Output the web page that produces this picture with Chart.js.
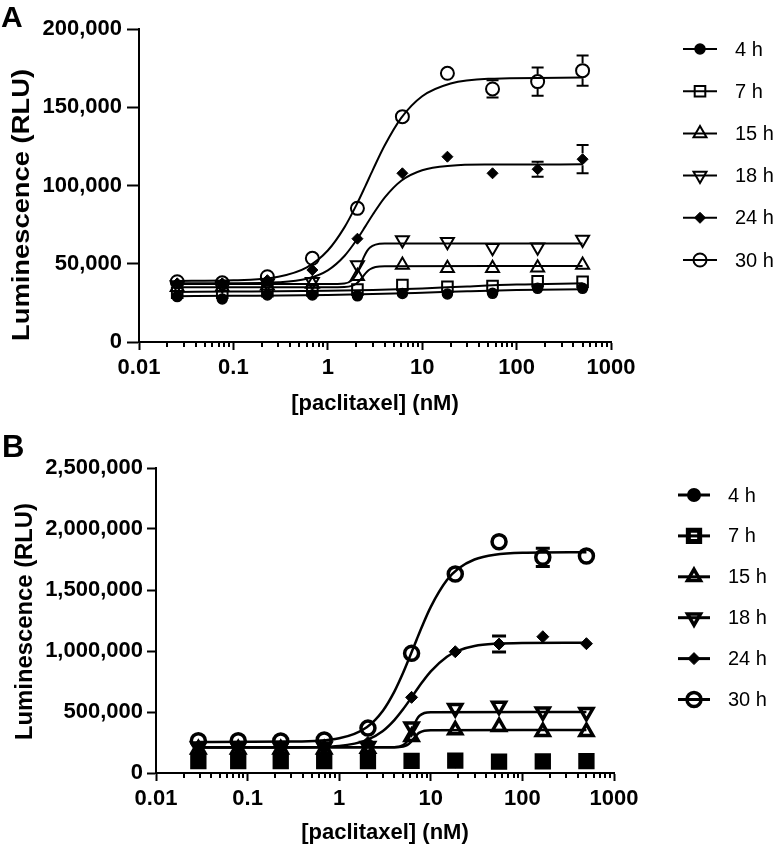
<!DOCTYPE html>
<html><head><meta charset="utf-8">
<script src="https://cdn.jsdelivr.net/npm/chart.js@4.4.1/dist/chart.umd.min.js"></script>
<style>
html,body{margin:0;padding:0;background:#fff;}
#wrap{position:relative;width:780px;height:849px;overflow:hidden;}
canvas{position:absolute;left:0;}
#cA{top:0;} #cB{top:420px;}
</style></head><body>
<div id="wrap"><canvas id="cA" width="780" height="420"></canvas><canvas id="cB" width="780" height="429"></canvas></div>
<script>
// ---------------- data ----------------
const seriesLabels = ['4 h', '7 h', '15 h', '18 h', '24 h', '30 h'];
const xTickLabels = ['0.01', '0.1', '1', '10', '100', '1000'];
const yMaxA = 200000, yStepA = 50000;
const yMaxB = 2500000, yStepB = 500000;

// Panel A measured points
const concA = [0.0254, 0.0762, 0.229, 0.686, 2.06, 6.17, 18.5, 55.6, 167, 500];
const a4h  = [29000, 27500, 30000, 30000, 29500, 31000, 30700, 31100, 34300, 34300];
const a7h  = [31500, 31500, 32500, 33000, 33500, 36400, 35300, 35800, 38800, 38500];
const a15h = [35000, 35000, 36000, 37000, 42000, 49200, 47100, 47100, 47500, 49200];
const a18h = [36500, 36500, 37500, 38500, 49200, 65200, 64100, 60200, 60500, 65500];
const a24h = [37500, 37500, 39500, 46000, 66000, 107800, 118400, 107800, 110400, 116800];
const a30h = [38500, 37800, 41700, 53500, 85400, 144000, 171700, 161700, 166400, 173400];
const a18hErr = [0, 0, 0, 0, 0, 0, 5000, 0, 0, 3500];
const a24hErr = [0, 0, 0, 0, 0, 0, 0, 0, 4800, 9000];
const a30hErr = [0, 0, 0, 0, 0, 0, 0, 5500, 9000, 9600];

// Panel A fitted curves
const cxA4  = [0.0254, 0.1, 1, 3, 10, 30, 100, 500];
const cyA4  = [29300, 29500, 30000, 30600, 31500, 32400, 33200, 33700];
const cxA7  = [0.0254, 0.1, 1, 3, 10, 30, 100, 500];
const cyA7  = [32000, 32200, 32700, 33200, 34200, 35500, 36700, 37500];
const cxA15 = [0.0254, 1, 1.5, 1.8, 2.0, 2.2, 2.4, 2.6, 2.8, 3.2, 4, 500];
const cyA15 = [35000, 35000, 35150, 35880, 37240, 39600, 42450, 44900, 46500, 47910, 48430, 48500];
const cxA18 = [0.0254, 1, 1.5, 1.8, 2.0, 2.2, 2.4, 2.6, 2.8, 3.2, 4, 500];
const cyA18 = [37000, 37000, 37440, 39520, 43110, 48540, 54060, 58060, 60370, 62250, 62920, 63000];
const cxA24 = [0.0254, 0.1, 0.3, 0.6, 1, 1.5, 2, 2.5, 3, 4, 6, 10, 20, 50, 500];
const cyA24 = [37500, 37560, 38150, 40400, 45780, 54960, 64830, 73860, 81430, 92270, 103080, 109780, 112660, 113390, 113500];
const cxA30 = [0.0254, 0.1, 0.3, 0.6, 1, 1.5, 2, 2.5, 3, 4, 6, 10, 20, 50, 500];
const cyA30 = [39040, 39400, 41720, 47720, 58440, 73240, 87310, 99630, 109980, 125520, 143220, 157040, 165200, 168220, 169000];

// Panel B measured points
const concB = [0.029, 0.079, 0.23, 0.686, 2.06, 6.17, 18.5, 55.6, 167, 500];
const b4h  = [92000, 92000, 93000, 93000, 93000, 95000, 97000, 95000, 93000, 94000];
const b7h  = [97000, 97000, 98000, 98000, 97000, 100000, 102000, 93000, 96000, 97000];
const b15h = [195000, 195000, 195000, 195000, 200000, 298000, 352000, 380000, 339000, 339000];
const b18h = [215000, 215000, 215000, 215000, 220000, 380000, 530000, 549000, 503000, 497000];
const b24h = [220000, 220000, 218000, 218000, 250000, 620000, 994000, 1057000, 1117000, 1060000];
const b30h = [265000, 265000, 262000, 270000, 368000, 981000, 1631000, 1896000, 1768000, 1779000];
const b24hErr = [0, 0, 0, 0, 0, 0, 0, 65000, 0, 0];
const b30hErr = [0, 0, 0, 0, 0, 0, 0, 0, 75000, 0];

// Panel B fitted curves
const cxB15 = [0.029, 4, 5, 5.5, 6, 6.5, 7, 7.5, 8.5, 10, 500];
const cyB15 = [212000, 212000, 217800, 228600, 250800, 282000, 311200, 330700, 346600, 351200, 352000];
const cxB18 = [0.029, 4, 5, 5.5, 6, 6.5, 7, 7.5, 8.5, 10, 500];
const cyB18 = [212000, 212000, 228900, 259200, 315000, 382700, 436600, 468300, 492200, 498800, 500000];
const cxB24 = [0.029, 0.3, 1, 2, 3, 4, 5, 6, 7, 8, 10, 15, 20, 30, 50, 100, 500];
const cyB24 = [208000, 209000, 222300, 269900, 344600, 433600, 524000, 607600, 680100, 741500, 833700, 953600, 1003200, 1040200, 1058800, 1065900, 1068000];
const cxB30 = [0.029, 0.3, 1, 2, 3, 4, 5, 6, 7, 8, 10, 15, 20, 30, 50, 100, 500];
const cyB30 = [255000, 257400, 284900, 375700, 511100, 667300, 823500, 967300, 1092800, 1199400, 1362200, 1581000, 1675800, 1749800, 1788800, 1805000, 1810000];

// ---------------- rendering ----------------
const FONT = "'Liberation Sans', Arial, Helvetica, sans-serif";
Chart.defaults.font.family = FONT;
Chart.defaults.color = '#000';
const H = Chart.helpers;

const majorVals = xTickLabels.map(Number);
function isMajor(v){ const l = Math.log10(v); return Math.abs(l - Math.round(l)) < 1e-6; }
const allXTicks = [];
majorVals.forEach((m, i) => {
  allXTicks.push(m);
  if (i < majorVals.length - 1) for (let k = 2; k <= 9; k++) allXTicks.push(+(k * m).toPrecision(6));
});
function labelFor(v){
  for (let i = 0; i < majorVals.length; i++) if (Math.abs(v / majorVals[i] - 1) < 1e-6) return xTickLabels[i];
  return '';
}
const fmt = v => Number(v).toLocaleString('en-US');

function pts(xs, ys){ return xs.map((x, i) => ({x: x, y: ys[i]})); }

function markerDS(label, xs, ys, errs, st){
  return {
    label, data: pts(xs, ys), errors: errs, isMarker: true, showLine: false,
    pointStyle: st.ps, pointRotation: st.rot || 0, pointRadius: st.r, pointHoverRadius: st.r,
    pointBorderWidth: st.bw, pointHoverBorderWidth: st.bw,
    pointBackgroundColor: st.fill ? '#000' : 'rgba(0,0,0,0)', pointBorderColor: '#000',
    borderColor: '#000', order: 0
  };
}
function curveDS(xs, ys, lw){
  return {
    label: '', data: pts(xs, ys), isCurve: true, showLine: true, pointRadius: 0, pointHoverRadius: 0,
    borderColor: '#000', borderWidth: lw, cubicInterpolationMode: 'monotone', fill: false, order: 1
  };
}

const extras = {
  id: 'panelExtras',
  afterDatasetsDraw(chart){
    const P = chart.options.plugins.panelExtras;
    const {ctx} = chart; const x = chart.scales.x, y = chart.scales.y;
    chart.data.datasets.forEach(ds => {
      if (!ds.errors) return;
      ds.errors.forEach((e, i) => {
        if (!e) return;
        const p = ds.data[i];
        const px = x.getPixelForValue(p.x), pc = y.getPixelForValue(p.y);
        const pt = y.getPixelForValue(p.y + e), pb = y.getPixelForValue(p.y - e);
        const r = ds.pointRadius + ds.pointBorderWidth / 2;
        ctx.save(); ctx.strokeStyle = '#000'; ctx.lineWidth = P.errW; ctx.lineCap = 'butt';
        ctx.beginPath();
        if (pc - r > pt) { ctx.moveTo(px, pc - r); ctx.lineTo(px, pt); ctx.moveTo(px - P.cap, pt); ctx.lineTo(px + P.cap, pt); }
        if (pc + r < pb) { ctx.moveTo(px, pc + r); ctx.lineTo(px, pb); ctx.moveTo(px - P.cap, pb); ctx.lineTo(px + P.cap, pb); }
        ctx.stroke(); ctx.restore();
      });
    });
  },
  afterDraw(chart){
    const P = chart.options.plugins.panelExtras;
    const {ctx, chartArea} = chart; const x = chart.scales.x;
    ctx.save();
    // minor x ticks
    ctx.strokeStyle = '#000'; ctx.lineWidth = P.tickW;
    ctx.beginPath();
    allXTicks.forEach(v => {
      if (isMajor(v)) return;
      const px = Math.round(x.getPixelForValue(v));
      ctx.moveTo(px, chartArea.bottom); ctx.lineTo(px, chartArea.bottom + P.minorLen);
    });
    ctx.stroke();
    // y axis title
    ctx.save();
    ctx.fillStyle = '#000'; ctx.font = 'bold ' + P.yTitleSize + 'px ' + FONT;
    ctx.translate(P.yTitleX, P.yTitleY); ctx.rotate(-Math.PI / 2);
    const w = ctx.measureText(P.yTitle).width;
    ctx.scale(P.yTitleLen / w, 1);
    ctx.textAlign = 'center'; ctx.textBaseline = 'middle';
    ctx.fillText(P.yTitle, 0, 0);
    ctx.restore();
    // legend
    const items = chart.data.datasets.filter(d => d.isMarker);
    items.forEach((ds, i) => {
      const cy = P.legY0 + i * P.legDy;
      ctx.strokeStyle = '#000'; ctx.lineWidth = P.legLineW;
      ctx.beginPath(); ctx.moveTo(P.legX0, cy); ctx.lineTo(P.legX1, cy); ctx.stroke();
      ctx.fillStyle = ds.pointBackgroundColor; ctx.strokeStyle = '#000'; ctx.lineWidth = ds.pointBorderWidth;
      H.drawPoint(ctx, {pointStyle: ds.pointStyle, rotation: ds.pointRotation, radius: ds.pointRadius, borderWidth: ds.pointBorderWidth}, (P.legX0 + P.legX1) / 2, cy);
      ctx.fillStyle = '#000'; ctx.font = P.legFont + 'px ' + FONT;
      ctx.textAlign = 'left'; ctx.textBaseline = 'middle';
      ctx.fillText(ds.label, P.legTextX, cy + 1);
    });
    // panel letter
    ctx.fillStyle = '#000'; ctx.font = 'bold ' + P.letterSize + 'px ' + FONT;
    ctx.textAlign = 'left'; ctx.textBaseline = 'alphabetic';
    ctx.fillText(P.letter, P.letterX, P.letterY);
    ctx.restore();
  }
};

function makePanel(id, o){
  const datasets = [];
  o.curves.forEach(c => datasets.push(curveDS(c[0], c[1], o.lineW)));
  o.markers.forEach(m => datasets.push(m));
  return new Chart(document.getElementById(id), {
    type: 'scatter',
    data: {datasets},
    plugins: [extras],
    options: {
      responsive: false, maintainAspectRatio: false, devicePixelRatio: 1, animation: false,
      events: [],
      layout: {padding: {left: 0, top: o.top, right: o.right, bottom: 0}},
      plugins: {
        legend: {display: false}, tooltip: {enabled: false},
        panelExtras: o.extras
      },
      scales: {
        x: {
          type: 'logarithmic', min: 0.01, max: 1000,
          afterBuildTicks: s => { s.ticks = allXTicks.map(v => ({value: v, major: isMajor(v)})); },
          afterFit: s => { s.height = o.xH; },
          ticks: {autoSkip: false, maxRotation: 0, minRotation: 0, padding: o.xTickPad,
                  font: {size: o.tickFont, weight: 'bold'}, color: '#000',
                  callback: v => labelFor(v)},
          grid: {drawOnChartArea: false, drawTicks: true, tickLength: o.xTickLen, tickWidth: 2,
                 tickColor: c => (c.tick && isMajor(c.tick.value)) ? '#000' : 'rgba(0,0,0,0)'},
          border: {display: true, color: '#000', width: 2},
          title: {display: true, text: '[paclitaxel] (nM)', color: '#000',
                  font: {size: o.titleFont, weight: 'bold'}, padding: {top: 0, bottom: o.xTitlePad}}
        },
        y: {
          type: 'linear', min: 0, max: o.yMax,
          afterFit: s => { s.width = o.yW; },
          ticks: {stepSize: o.yStep, padding: o.yTickPad, font: {size: o.tickFont, weight: 'bold'}, color: '#000',
                  callback: v => fmt(v)},
          grid: {drawOnChartArea: false, drawTicks: true, tickLength: o.yTickLen, tickWidth: 2, tickColor: '#000'},
          border: {display: true, color: '#000', width: 2},
          title: {display: false}
        }
      }
    }
  });
}

const stA = [
  {ps: 'circle', r: 5, bw: 1.5, fill: true},
  {ps: 'rect', r: 7.5, bw: 2},
  {ps: 'triangle', r: 7.5, bw: 2},
  {ps: 'triangle', rot: 180, r: 7.5, bw: 2},
  {ps: 'rectRot', r: 5.5, bw: 1, fill: true},
  {ps: 'circle', r: 6.5, bw: 2}
];
const stB = [
  {ps: 'circle', r: 6, bw: 2, fill: true},
  {ps: 'rect', r: 8, bw: 5},
  {ps: 'triangle', r: 7.5, bw: 3.5},
  {ps: 'triangle', rot: 180, r: 7.5, bw: 3.5},
  {ps: 'rectRot', r: 6, bw: 1, fill: true},
  {ps: 'circle', r: 7, bw: 3.5}
];

makePanel('cA', {
  top: 29, right: 169, yW: 139, xH: 78, yMax: yMaxA, yStep: yStepA,
  tickFont: 22, titleFont: 22, xTickPad: 5, xTickLen: 8, yTickLen: 12, yTickPad: 5,
  xTitlePad: 3, lineW: 2,
  curves: [[cxA4, cyA4], [cxA7, cyA7], [cxA15, cyA15], [cxA18, cyA18], [cxA24, cyA24], [cxA30, cyA30]],
  markers: [
    markerDS(seriesLabels[0], concA, a4h, null, stA[0]),
    markerDS(seriesLabels[1], concA, a7h, null, stA[1]),
    markerDS(seriesLabels[2], concA, a15h, null, stA[2]),
    markerDS(seriesLabels[3], concA, a18h, a18hErr, stA[3]),
    markerDS(seriesLabels[4], concA, a24h, a24hErr, stA[4]),
    markerDS(seriesLabels[5], concA, a30h, a30hErr, stA[5])
  ],
  extras: {errW: 2, cap: 6, tickW: 2, minorLen: 5, legX0: 683, legX1: 717, legTextX: 735, legY0: 49, legDy: 42.2,
           legLineW: 2, legFont: 20, letter: 'A', letterSize: 30, letterX: 1, letterY: 27,
           yTitle: 'Luminescence (RLU)', yTitleSize: 23, yTitleX: 23, yTitleY: 205, yTitleLen: 272}
});

makePanel('cB', {
  top: 48, right: 166, yW: 156, xH: 76, yMax: yMaxB, yStep: yStepB,
  tickFont: 22, titleFont: 22, xTickPad: 5, xTickLen: 8, yTickLen: 9, yTickPad: 4,
  xTitlePad: 3, lineW: 2.5,
  curves: [[cxB15, cyB15], [cxB18, cyB18], [cxB24, cyB24], [cxB30, cyB30]],
  markers: [
    markerDS(seriesLabels[0], concB, b4h, null, stB[0]),
    markerDS(seriesLabels[1], concB, b7h, null, stB[1]),
    markerDS(seriesLabels[2], concB, b15h, null, stB[2]),
    markerDS(seriesLabels[3], concB, b18h, null, stB[3]),
    markerDS(seriesLabels[4], concB, b24h, b24hErr, stB[4]),
    markerDS(seriesLabels[5], concB, b30h, b30hErr, stB[5])
  ],
  extras: {errW: 3, cap: 7, tickW: 2, minorLen: 5, legX0: 678, legX1: 710, legTextX: 728, legY0: 75, legDy: 40.9,
           legLineW: 3, legFont: 20, letter: 'B', letterSize: 31, letterX: 2, letterY: 37,
           yTitle: 'Luminescence (RLU)', yTitleSize: 23, yTitleX: 26, yTitleY: 201.5, yTitleLen: 237}
});
</script>
</body></html>
